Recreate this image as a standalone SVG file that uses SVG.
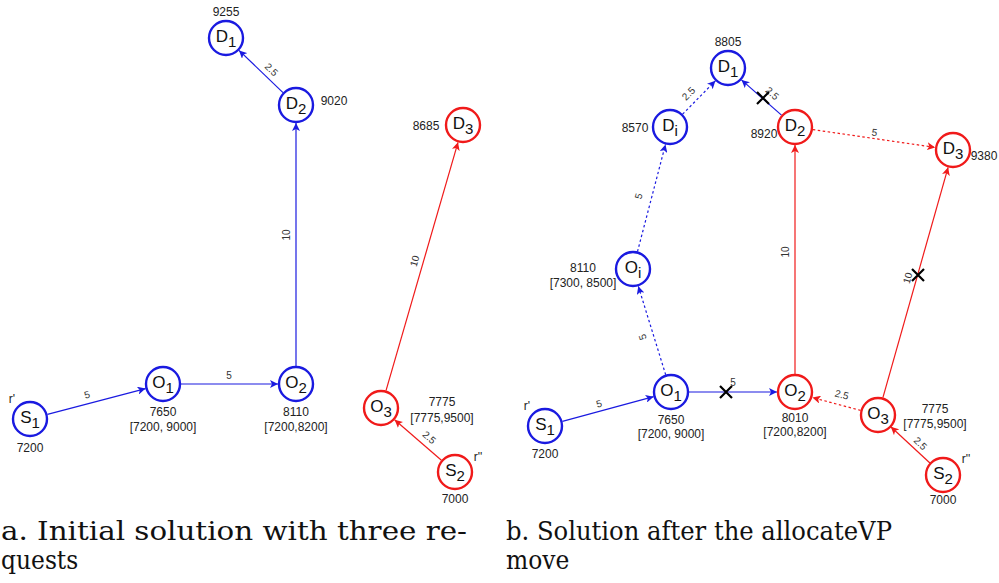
<svg xmlns="http://www.w3.org/2000/svg" width="999" height="583" viewBox="0 0 999 583">
  <style>
    .nb { fill: #fff; stroke: #1a1ae0; stroke-width: 2.4; }
    .nr { fill: #fff; stroke: #f01a1a; stroke-width: 2.4; }
    .lt { font-family: 'Liberation Sans', Arial, sans-serif; font-size: 17px; fill: #111; text-anchor: middle; }
    .num { font-family: 'Liberation Sans', Arial, sans-serif; font-size: 12px; fill: #222; text-anchor: middle; }
    .el { font-family: 'Liberation Sans', Arial, sans-serif; font-size: 10px; fill: #333; text-anchor: middle; }
    .eb { stroke: #1a1ae0; stroke-width: 1.2; fill: none; marker-end: url(#ab); }
    .er { stroke: #f01a1a; stroke-width: 1.2; fill: none; marker-end: url(#ar); }
    .dot { stroke-dasharray: 2.5 2.5; }
    .x { stroke: #000; stroke-width: 2.2; }
    .cap { font-family: 'DejaVu Serif Condensed', 'DejaVu Serif', serif; font-size: 26px; fill: #111; }
  </style>
  <defs>
    <marker id="ab" markerWidth="9" markerHeight="8" refX="8" refY="4" orient="auto" markerUnits="userSpaceOnUse">
      <path d="M0,0 L8,4 L0,8 L2,4 Z" fill="#1a1ae0"/>
    </marker>
    <marker id="ar" markerWidth="9" markerHeight="8" refX="8" refY="4" orient="auto" markerUnits="userSpaceOnUse">
      <path d="M0,0 L8,4 L0,8 L2,4 Z" fill="#f01a1a"/>
    </marker>
  </defs>

  <rect width="999" height="583" fill="#fff"/>

  <!-- Connectors -->
  <g id="connectors">
    <!-- panel a -->
    <line class="eb" x1="47.4" y1="414.4" x2="145.6" y2="388.6"/>
    <line class="eb" x1="181" y1="384" x2="278" y2="384"/>
    <line class="eb" x1="296" y1="366" x2="296" y2="123"/>
    <line class="eb" x1="283" y1="92.6" x2="239" y2="50.4"/>
    <line class="er" x1="386" y1="390.7" x2="458" y2="142.3"/>
    <line class="er" x1="441.4" y1="460.2" x2="394.6" y2="419.8"/>
    <text class="el" x="88" y="398" transform="rotate(-15 88 398)">5</text>
    <text class="el" x="229" y="379">5</text>
    <text class="el" x="290" y="235" transform="rotate(-90 290 235)">10</text>
    <text class="el" x="269" y="72" transform="rotate(44 269 72)">2.5</text>
    <text class="el" x="418" y="262" transform="rotate(-74 418 262)">10</text>
    <text class="el" x="427" y="440" transform="rotate(41 427 440)">2.5</text>

    <!-- panel b -->
    <line class="eb" x1="562.4" y1="421.3" x2="653.6" y2="396.7"/>
    <line class="eb" x1="689" y1="392" x2="777" y2="392"/>
    <line class="eb dot" x1="665.7" y1="374.8" x2="638.3" y2="286.2"/>
    <line class="eb dot" x1="637.5" y1="251.6" x2="665.5" y2="144.4"/>
    <line class="eb dot" x1="682.6" y1="114.2" x2="715.4" y2="80.8"/>
    <line class="eb" x1="781.5" y1="115.1" x2="741.5" y2="79.9"/>
    <line class="er dot" x1="812.8" y1="129.6" x2="935.2" y2="147.4"/>
    <line class="er" x1="795" y1="375" x2="795" y2="145"/>
    <line class="er dot" x1="860.6" y1="410.4" x2="812.4" y2="397.6"/>
    <line class="er" x1="882.9" y1="397.7" x2="948.1" y2="167.3"/>
    <line class="er" x1="930.2" y1="463.2" x2="890.8" y2="426.8"/>
    <text class="el" x="600" y="407" transform="rotate(-15 600 407)">5</text>
    <text class="el" x="733" y="386">5</text>
    <text class="el" x="646" y="336" transform="rotate(-107 646 336)">5</text>
    <text class="el" x="642" y="197" transform="rotate(-75 642 197)">5</text>
    <text class="el" x="691" y="96" transform="rotate(-45 691 96)">2.5</text>
    <text class="el" x="770" y="96" transform="rotate(42 770 96)">2.5</text>
    <text class="el" x="874" y="136" transform="rotate(8 874 136)">5</text>
    <text class="el" x="789" y="252" transform="rotate(-90 789 252)">10</text>
    <text class="el" x="841" y="398" transform="rotate(15 841 398)">2.5</text>
    <text class="el" x="911" y="279" transform="rotate(-74 911 279)">10</text>
    <text class="el" x="918" y="446" transform="rotate(43 918 446)">2.5</text>

    <!-- removed arcs -->
    <path class="x" d="M757,92 L769,104 M769,92 L757,104"/>
    <path class="x" d="M720,386 L732,398 M732,386 L720,398"/>
    <path class="x" d="M912,269 L924,281 M924,269 L912,281"/>
  </g>

  <!-- Panel a nodes -->
  <g id="a-S1">
    <circle class="nb" cx="30" cy="419" r="17"/>
    <text class="lt" x="30" y="423">S<tspan font-size="15" dy="5">1</tspan></text>
    <text class="num" x="12" y="403">r'</text>
    <text class="num" x="30" y="452">7200</text>
  </g>
  <g id="a-O1">
    <circle class="nb" cx="163" cy="384" r="17"/>
    <text class="lt" x="163" y="388">O<tspan font-size="15" dy="5">1</tspan></text>
    <text class="num" x="163" y="416">7650</text>
    <text class="num" x="163" y="431">[7200, 9000]</text>
  </g>
  <g id="a-O2">
    <circle class="nb" cx="296" cy="384" r="17"/>
    <text class="lt" x="296" y="388">O<tspan font-size="15" dy="5">2</tspan></text>
    <text class="num" x="296" y="416">8110</text>
    <text class="num" x="296" y="431">[7200,8200]</text>
  </g>
  <g id="a-D2">
    <circle class="nb" cx="296" cy="105" r="17"/>
    <text class="lt" x="296" y="109">D<tspan font-size="15" dy="5">2</tspan></text>
    <text class="num" x="334" y="105">9020</text>
  </g>
  <g id="a-D1">
    <circle class="nb" cx="226" cy="38" r="17"/>
    <text class="lt" x="226" y="42">D<tspan font-size="15" dy="5">1</tspan></text>
    <text class="num" x="226" y="16">9255</text>
  </g>
  <g id="a-O3">
    <circle class="nr" cx="381" cy="408" r="17"/>
    <text class="lt" x="381" y="412">O<tspan font-size="15" dy="5">3</tspan></text>
    <text class="num" x="442" y="406">7775</text>
    <text class="num" x="442" y="422">[7775,9500]</text>
  </g>
  <g id="a-D3">
    <circle class="nr" cx="463" cy="125" r="17"/>
    <text class="lt" x="463" y="129">D<tspan font-size="15" dy="5">3</tspan></text>
    <text class="num" x="426" y="130">8685</text>
  </g>
  <g id="a-S2">
    <circle class="nr" cx="455" cy="472" r="17"/>
    <text class="lt" x="455" y="476">S<tspan font-size="15" dy="5">2</tspan></text>
    <text class="num" x="478" y="461">r''</text>
    <text class="num" x="455" y="503">7000</text>
  </g>

  <!-- Panel b nodes -->
  <g id="b-S1">
    <circle class="nb" cx="545" cy="426" r="17"/>
    <text class="lt" x="545" y="430">S<tspan font-size="15" dy="5">1</tspan></text>
    <text class="num" x="527" y="410">r'</text>
    <text class="num" x="545" y="458">7200</text>
  </g>
  <g id="b-O1">
    <circle class="nb" cx="671" cy="392" r="17"/>
    <text class="lt" x="671" y="396">O<tspan font-size="15" dy="5">1</tspan></text>
    <text class="num" x="671" y="424">7650</text>
    <text class="num" x="671" y="438">[7200, 9000]</text>
  </g>
  <g id="b-Oi">
    <circle class="nb" cx="633" cy="269" r="17"/>
    <text class="lt" x="633" y="273">O<tspan font-size="15" dy="5">i</tspan></text>
    <text class="num" x="583" y="272">8110</text>
    <text class="num" x="583" y="287">[7300, 8500]</text>
  </g>
  <g id="b-Di">
    <circle class="nb" cx="670" cy="127" r="17"/>
    <text class="lt" x="670" y="131">D<tspan font-size="15" dy="5">i</tspan></text>
    <text class="num" x="635" y="132">8570</text>
  </g>
  <g id="b-D1">
    <circle class="nb" cx="728" cy="68" r="17"/>
    <text class="lt" x="728" y="72">D<tspan font-size="15" dy="5">1</tspan></text>
    <text class="num" x="728" y="46">8805</text>
  </g>
  <g id="b-D2">
    <circle class="nr" cx="795" cy="127" r="17"/>
    <text class="lt" x="795" y="131">D<tspan font-size="15" dy="5">2</tspan></text>
    <text class="num" x="764" y="138">8920</text>
  </g>
  <g id="b-D3">
    <circle class="nr" cx="953" cy="150" r="17"/>
    <text class="lt" x="953" y="154">D<tspan font-size="15" dy="5">3</tspan></text>
    <text class="num" x="984" y="160">9380</text>
  </g>
  <g id="b-O2">
    <circle class="nr" cx="795" cy="392" r="17"/>
    <text class="lt" x="795" y="396">O<tspan font-size="15" dy="5">2</tspan></text>
    <text class="num" x="795" y="422">8010</text>
    <text class="num" x="795" y="436">[7200,8200]</text>
  </g>
  <g id="b-O3">
    <circle class="nr" cx="878" cy="415" r="17"/>
    <text class="lt" x="878" y="419">O<tspan font-size="15" dy="5">3</tspan></text>
    <text class="num" x="935" y="413">7775</text>
    <text class="num" x="935" y="428">[7775,9500]</text>
  </g>
  <g id="b-S2">
    <circle class="nr" cx="943" cy="475" r="17"/>
    <text class="lt" x="943" y="479">S<tspan font-size="15" dy="5">2</tspan></text>
    <text class="num" x="966" y="463">r''</text>
    <text class="num" x="943" y="504">7000</text>
  </g>

  <!-- Captions -->
  <g id="captions">
    <text class="cap" x="1" y="540" textLength="466" lengthAdjust="spacingAndGlyphs">a. Initial solution with three re-</text>
    <text class="cap" x="1" y="569">quests</text>
    <text class="cap" x="506" y="540" textLength="386" lengthAdjust="spacingAndGlyphs">b. Solution after the allocateVP</text>
    <text class="cap" x="506" y="569">move</text>
  </g>
</svg>
